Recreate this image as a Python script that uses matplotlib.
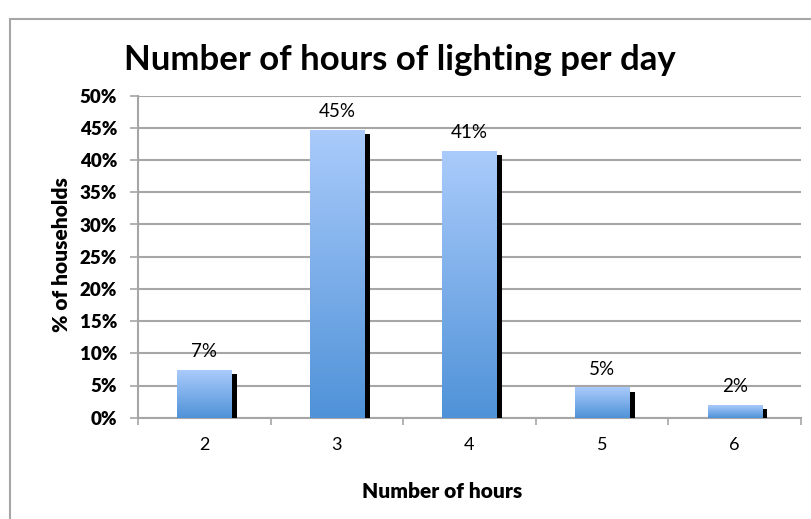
import numpy as np
import matplotlib
matplotlib.use("Agg")
import matplotlib.pyplot as plt
import matplotlib.patheffects as pe
from matplotlib.patches import Rectangle
from matplotlib.colors import LinearSegmentedColormap

plt.rcParams['font.family'] = ['Lato', 'DejaVu Sans']

# === Data ===
hours = ['2', '3', '4', '5', '6']
share = [7.4, 44.7, 41.4, 4.7, 2.0]   # % of households
y_ticks = list(range(0, 55, 5))

# === Figure / axes ===
fig = plt.figure(figsize=(8.11, 5.19), dpi=100)
fig.patches.append(Rectangle((10 / 811, -0.1), 1.2, 1 - 19 / 519 + 0.1,
                             transform=fig.transFigure, fill=False,
                             edgecolor='#a6a6a6', linewidth=1.5))
ax = fig.add_axes([138 / 811, 1 - 417.7 / 519, (801 - 138) / 811, (417.7 - 95.7) / 519])

x = np.arange(len(hours))
bars = ax.bar(x, share, width=0.41, color='#7fb0ec', zorder=3,
              path_effects=[pe.SimplePatchShadow(offset=(4, -3), shadow_rgbFace='black', alpha=1.0),
                            pe.Normal()])

# gradient fill, light on top, darker at the base
grad = LinearSegmentedColormap.from_list('bar', ['#4f92d8', '#aacbfb'])
for b in bars:
    x0, w, h = b.get_x(), b.get_width(), b.get_height()
    im = ax.imshow(np.linspace(0, 1, 256).reshape(-1, 1), cmap=grad, origin='lower',
                   extent=[x0, x0 + w, 0, h], aspect='auto', zorder=4)
    im.set_clip_path(b)

for xi, v in zip(x, share):
    ax.text(xi, v + 1.5, f"{v:.0f}%", ha='center', va='bottom', fontsize=13.5, zorder=5)

ax.set_xlim(-0.5, len(hours) - 0.5)
ax.set_ylim(0, 50)
ax.set_yticks(y_ticks)
ax.set_yticklabels([f"{t}%" for t in y_ticks], fontweight='heavy', fontsize=13.5)
ax.set_xticks(x)
ax.set_xticklabels(hours, fontsize=13)
ax.tick_params(axis='x', length=0, pad=14)
ax.set_xticks(np.arange(-0.5, len(hours)), minor=True)
ax.tick_params(axis='x', which='minor', length=5, color='#a6a6a6', width=1.2)
ax.tick_params(axis='y', length=6, color='#a6a6a6', width=1.2, pad=9)

ax.grid(axis='y', color='#a6a6a6', linewidth=1.5, zorder=0)
ax.set_axisbelow(True)
for s in ['top', 'right']:
    ax.spines[s].set_visible(False)
for s in ['left', 'bottom']:
    ax.spines[s].set_color('#a6a6a6')
    ax.spines[s].set_linewidth(1.5)

fig.text(442 / 811, 1 - 492 / 519, 'Number of hours', ha='center', va='center',
         fontweight='heavy', fontsize=15)
fig.text(62 / 811, 1 - 255 / 519, '% of households', ha='center', va='center',
         rotation=90, fontweight='heavy', fontsize=15)
fig.text(400 / 811, 1 - 60 / 519, 'Number of hours of lighting per day',
         ha='center', va='center', fontweight='bold', fontsize=25)

fig.savefig('out.png', dpi=100)
